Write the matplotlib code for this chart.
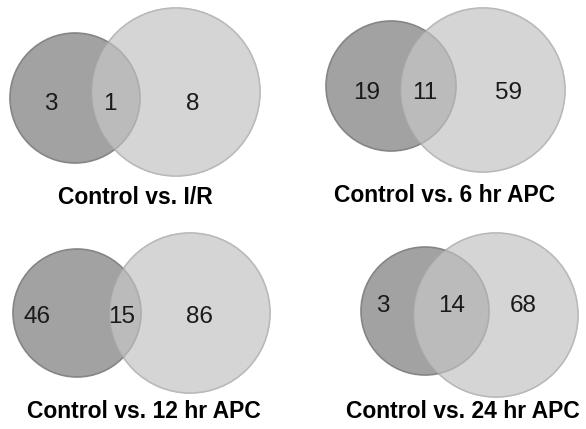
import matplotlib
import matplotlib.pyplot as plt
from matplotlib.patches import Circle

matplotlib.rcParams['font.family'] = ['Liberation Sans', 'DejaVu Sans']

# counts: only in control, shared, only in treatment
titles = ['Control vs. I/R', 'Control vs. 6 hr APC',
          'Control vs. 12 hr APC', 'Control vs. 24 hr APC']
only_ctrl = [3, 19, 46, 3]
shared = [1, 11, 15, 14]
only_trt = [8, 59, 86, 68]

# layout in pixels (x, y from top-left)
dark_c = [(75, 98, 65), (391, 86, 65), (77, 313, 64), (425, 311, 64)]
light_c = [(176, 92, 84), (483, 90, 82), (190, 313, 80), (496, 315, 82)]
num_x = [(51, 110, 193), (367, 425, 509), (37, 122, 199), (383, 452, 523)]
num_y = [104, 93, 317, 306]
lab_pos = [(135, 197), (445, 196), (144, 411), (463, 412)]

DARK = '#a2a2a2'
LIGHT = '#d5d5d5'

fig = plt.figure(figsize=(5.86, 4.29), dpi=100)
ax = fig.add_axes([0, 0, 1, 1])
ax.set_xlim(0, 586)
ax.set_ylim(429, 0)
ax.axis('off')

for i in range(4):
    lx, ly, lr = light_c[i]
    dx, dy, dr = dark_c[i]
    ax.add_patch(Circle((lx, ly), lr, facecolor=LIGHT, edgecolor='#bdbdbd', lw=1.2))
    ax.add_patch(Circle((dx, dy), dr, facecolor=DARK, edgecolor='#858585', lw=1.2))
    ax.add_patch(Circle((lx, ly), lr, facecolor=LIGHT, edgecolor='#b0b0b0', lw=1.0, alpha=0.5))
    vals = [only_ctrl[i], shared[i], only_trt[i]]
    for x, v in zip(num_x[i], vals):
        ax.text(x, num_y[i], str(v), ha='center', va='center', fontsize=17.5, color='#1a1a1a')
    ax.text(lab_pos[i][0], lab_pos[i][1], titles[i], ha='center', va='center',
            fontsize=16.5, fontweight='bold', color='black')

fig.savefig('out.png', dpi=100)
